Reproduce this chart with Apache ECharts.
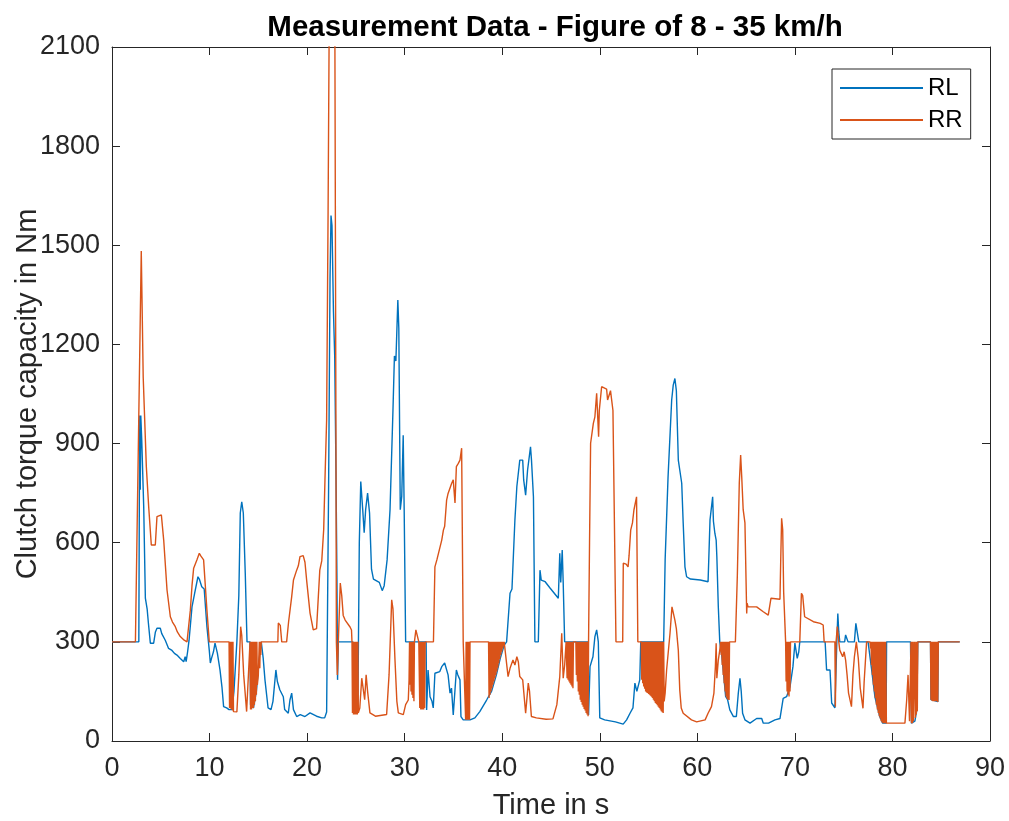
<!DOCTYPE html>
<html>
<head>
<meta charset="utf-8">
<script src="https://cdn.jsdelivr.net/npm/echarts@6/dist/echarts.min.js"></script>
<style>html,body{margin:0;padding:0;background:#fff;}#c{width:1009px;height:821px;}</style>
</head>
<body>
<div id="c"></div>
<script>
// ---- data (time in s, clutch torque capacity in Nm) ----
const seriesNames = ['RL', 'RR'];
const xTicks = [0, 10, 20, 30, 40, 50, 60, 70, 80, 90];
const yTicks = [0, 300, 600, 900, 1200, 1500, 1800, 2100];

const rlData = [
[0,300],[2.75,300],[2.8,710],[2.85,985],[2.9,760],[2.95,985],[3.05,910],[3.25,710],[3.42,432],[3.6,400],[3.73,357],[3.93,296],[4.27,296],[4.45,330],[4.61,341],[4.95,341],[5.1,325],[5.46,305],[5.8,280],[6.15,274],[6.4,265],[6.66,260],[7.0,250],[7.2,245],[7.35,240],[7.5,255],[7.6,240],[7.75,270],[7.9,305],[8.2,406],[8.47,447],[8.81,497],[8.95,490],[9.2,467],[9.45,460],[9.73,346],[9.97,275],[10.08,236],[10.2,250],[10.4,270],[10.56,296],[10.8,266],[11.07,215],[11.27,164],[11.44,104],[11.75,100],[12.0,95],[12.3,95],[12.5,150],[12.8,300],[13.0,440],[13.15,690],[13.3,724],[13.46,690],[13.66,508],[13.84,300],[14.15,300],[14.2,110],[14.5,100],[14.8,150],[15.1,250],[15.3,300],[15.5,250],[15.68,185],[16.0,100],[16.3,95],[16.5,120],[16.8,215],[16.95,180],[17.2,155],[17.4,150],[17.56,134],[17.7,95],[18.07,84],[18.24,124],[18.42,145],[18.6,95],[18.93,74],[19.3,80],[19.78,74],[20.3,85],[20.97,75],[21.5,70],[21.8,70],[22.0,88],[22.2,756],[22.35,1400],[22.45,1590],[22.55,1560],[22.7,1300],[22.83,1162],[22.96,811],[23.06,484],[23.12,185],[23.2,300],[24.7,300],[24.9,94],[25.2,85],[25.35,600],[25.5,785],[25.7,700],[25.85,630],[26.0,700],[26.2,750],[26.4,690],[26.6,520],[26.8,490],[27.4,480],[27.7,455],[27.9,470],[28.2,548],[28.5,700],[28.8,1000],[28.95,1165],[29.1,1150],[29.3,1334],[29.4,1250],[29.55,700],[29.7,740],[29.85,925],[29.95,700],[30.1,300],[32.2,300],[32.25,94],[32.4,215],[32.6,134],[32.8,120],[32.93,100],[33.1,205],[33.3,200],[33.6,210],[33.8,225],[34.1,236],[34.3,230],[34.45,200],[34.65,145],[34.8,160],[34.98,79],[35.1,74],[35.3,215],[35.45,200],[35.67,185],[35.77,74],[36.0,64],[36.7,64],[37.2,70],[37.7,89],[38.4,124],[38.9,150],[39.4,200],[39.8,250],[40.2,290],[40.45,300],[40.8,447],[41.0,460],[41.3,669],[41.5,770],[41.8,850],[42.1,850],[42.2,790],[42.4,744],[42.6,820],[42.9,890],[43.0,850],[43.2,739],[43.35,300],[43.7,300],[43.87,517],[44.0,487],[44.4,482],[44.9,463],[45.75,432],[45.9,568],[46.0,480],[46.15,578],[46.25,480],[46.4,300],[48.8,300],[48.85,79],[49.0,225],[49.2,245],[49.3,255],[49.5,316],[49.68,336],[49.85,300],[50.0,70],[50.5,64],[51.6,58],[52.4,51],[52.75,64],[53.1,84],[53.4,100],[53.6,175],[53.8,150],[54.1,185],[54.2,300],[56.55,300],[56.7,548],[57.0,800],[57.37,1032],[57.53,1077],[57.7,1097],[57.85,1060],[58.05,850],[58.2,820],[58.4,780],[58.55,660],[58.73,527],[58.9,497],[59.3,490],[60.3,487],[61.1,482],[61.3,669],[61.45,665],[61.57,739],[61.65,665],[61.8,628],[61.93,608],[62.0,558],[62.15,406],[62.3,300],[62.5,260],[62.7,200],[62.9,135],[63.1,125],[63.33,94],[63.7,74],[64.0,74],[64.2,145],[64.37,190],[64.5,150],[64.64,84],[64.88,64],[65.4,54],[66.08,68],[66.6,68],[66.76,54],[67.3,54],[67.96,64],[68.47,68],[68.8,129],[69.15,134],[69.5,164],[69.8,225],[70.0,296],[70.1,296],[70.24,250],[70.4,270],[70.5,300],[73.1,300],[73.25,215],[73.6,215],[73.77,115],[74.1,100],[74.3,300],[74.4,386],[74.5,330],[74.6,300],[75.1,300],[75.2,321],[75.35,321],[75.45,300],[76.1,300],[76.25,356],[76.4,356],[76.55,300],[77.5,300],[77.87,215],[78.2,134],[78.7,74],[79.0,54],[79.35,54],[79.4,300],[81.85,300],[81.95,54],[82.3,60],[82.5,94],[82.6,300],[83.9,300],[83.95,125],[84.65,119],[84.7,300],[86.9,300]
];

const rrData = [
[0,300],[2.4,300],[3.0,1483],[3.2,1100],[3.52,830],[3.76,709],[4.03,593],[4.44,593],[4.61,679],[5.06,684],[5.3,608],[5.64,457],[5.98,376],[6.2,360],[6.49,346],[6.7,330],[7.0,316],[7.2,320],[7.4,305],[7.69,300],[8.03,396],[8.2,470],[8.37,523],[8.7,548],[8.95,568],[9.1,560],[9.39,548],[9.73,396],[9.97,300],
[12.0,300],[12.05,100],[12.1,300],[12.15,98],[12.2,300],[12.25,95],[12.3,300],[12.35,92],[12.4,300],[12.45,89],[12.6,85],[12.8,88],[13.0,200],[13.19,346],[13.3,320],[13.5,200],[13.8,89],[14.0,95],[14.15,300],
[14.2,95],[14.25,300],[14.3,95],[14.35,300],[14.4,100],[14.45,300],[14.5,100],[14.55,300],[14.6,110],[14.65,300],[14.7,120],[14.75,300],[14.8,140],[14.85,300],[14.9,170],[15.0,200],[15.1,300],[15.15,220],[15.2,300],[15.25,260],[15.3,300],
[17.0,300],[17.05,357],[17.25,350],[17.4,300],[17.9,300],[18.1,360],[18.42,437],[18.6,487],[18.93,517],[19.1,530],[19.27,558],[19.6,561],[19.78,541],[19.95,487],[20.3,387],[20.63,336],[20.97,340],[21.3,517],[21.5,545],[21.7,640],[21.83,790],[22.0,971],[22.15,1600],[22.25,2100],[22.55,2600],[22.85,2100],[22.95,1000],[23.0,300],[23.1,200],[23.2,300],[23.4,478],[23.55,440],[23.7,380],[23.9,366],[24.4,345],[24.55,336],[24.6,300],
[24.65,85],[24.7,300],[24.75,80],[24.8,300],[24.85,80],[24.9,300],[24.95,80],[25.0,300],[25.05,80],[25.1,300],[25.15,80],[25.2,300],[25.25,85],[25.4,100],[25.6,190],[25.76,195],[25.9,125],[26.05,200],[26.2,150],[26.44,85],[27.0,75],[28.15,80],[28.4,200],[28.67,427],[28.8,400],[29.0,250],[29.2,120],[29.35,85],[29.86,80],[30.1,110],[30.37,124],[30.45,184],
[30.5,300],[30.55,170],[30.6,300],[30.65,150],[30.7,300],[30.75,140],[30.8,300],[30.85,130],[30.9,300],[30.95,120],[31.0,300],[31.15,336],[31.35,336],[31.45,300],
[31.55,100],[31.6,300],[31.65,95],[31.7,300],[31.75,95],[31.8,300],[31.85,95],[31.9,300],[31.95,95],[32.0,300],[32.05,100],[32.1,300],[32.95,300],[33.1,527],[33.3,548],[33.5,548],[33.8,608],[33.97,638],[34.1,650],[34.3,729],[34.45,749],[34.6,745],[34.82,780],[34.98,790],[35.16,720],[35.3,830],[35.5,840],[35.67,850],[35.84,886],[35.95,880],[36.0,300],
[36.2,300],[36.25,64],[36.3,300],[36.35,64],[36.4,300],[36.45,64],[36.5,300],[36.55,64],[36.6,300],[36.65,64],[36.7,300],
[38.6,300],[38.65,130],[38.7,300],[38.75,140],[38.8,300],[38.85,150],[38.9,300],[38.95,160],[39.0,300],[39.05,170],[39.1,300],[39.15,180],[39.2,300],[39.25,190],[39.3,300],[39.35,200],[39.4,300],[39.45,210],[39.5,300],[39.55,222],[39.6,300],[39.65,235],[39.7,300],[39.75,248],[39.8,300],[39.85,260],[39.9,300],[39.95,270],[40.0,300],[40.05,280],[40.1,300],[40.15,288],[40.2,300],[40.25,295],[40.35,300],
[40.6,195],[40.8,220],[41.1,245],[41.3,230],[41.5,255],[41.65,240],[41.8,195],[42.1,185],[42.4,84],[42.67,175],[42.8,150],[42.99,74],[43.5,70],[44.5,66],[45.2,67],[45.6,110],[45.9,195],[46.1,326],[46.25,190],[46.4,230],[46.55,300],
[46.6,300],[46.65,190],[46.7,300],[46.75,185],[46.8,300],[46.85,180],[46.9,300],[46.95,175],[47.0,300],[47.05,170],[47.1,300],[47.15,165],[47.2,300],[47.25,160],[47.3,300],[47.55,300],
[47.6,200],[47.65,300],[47.7,180],[47.75,300],[47.8,150],[47.85,300],[47.9,140],[47.95,300],[48.0,125],[48.05,300],[48.1,118],[48.15,300],[48.2,110],[48.25,300],[48.3,104],[48.35,300],[48.4,97],[48.45,300],[48.5,92],[48.55,300],[48.6,85],[48.65,300],[48.7,80],[48.75,300],[48.8,75],[48.85,300],
[48.95,600],[49.06,901],[49.34,961],[49.5,981],[49.68,1052],[49.8,1052],[49.88,921],[49.95,1000],[50.19,1072],[50.7,1065],[50.8,1032],[51.0,1032],[51.1,1060],[51.22,1062],[51.35,1000],[51.66,300],[52.35,300],[52.41,538],[52.7,535],[52.9,527],[53.0,560],[53.17,638],[53.35,660],[53.5,699],[53.77,739],[53.82,740],[53.9,300],
[54.25,300],[54.3,185],[54.35,300],[54.4,175],[54.45,300],[54.5,165],[54.55,300],[54.6,158],[54.65,300],[54.7,150],[54.75,300],[54.8,147],[54.85,300],[54.9,145],[54.95,300],[55.0,142],[55.05,300],[55.1,140],[55.15,300],[55.2,137],[55.25,300],[55.3,134],[55.35,300],[55.4,130],[55.45,300],[55.5,125],[55.55,300],[55.6,120],[55.65,300],[55.7,115],[55.75,300],[55.8,112],[55.85,300],[55.9,108],[55.95,300],[56.0,104],[56.05,300],[56.1,100],[56.15,300],[56.2,95],[56.25,300],[56.3,90],[56.35,300],[56.4,87],[56.45,300],[56.5,85],[56.55,300],
[56.6,120],[56.7,145],[56.85,215],[57.2,326],[57.4,406],[57.53,406],[57.7,366],[57.85,340],[58.05,275],[58.2,154],[58.35,100],[58.55,84],[59.4,64],[59.93,58],[60.8,64],[61.1,84],[61.45,104],[61.7,145],[61.85,225],[61.93,296],[62.0,190],[62.15,245],[62.3,275],[62.4,300],
[62.45,260],[62.5,300],[62.55,230],[62.6,300],[62.65,200],[62.7,300],[62.75,175],[62.8,300],[62.85,150],[62.9,300],[62.95,135],[63.0,300],[63.05,128],[63.1,300],[63.15,125],[63.2,300],[63.25,124],[63.3,300],
[63.9,300],[64.1,500],[64.3,780],[64.44,865],[64.55,800],[64.7,700],[64.88,660],[65.06,386],[65.1,417],[65.2,406],[66.08,406],[66.76,391],[67.27,381],[67.45,381],[67.55,432],[68.47,429],[68.55,550],[68.64,674],[68.75,640],[68.85,450],[69.05,300],
[69.1,180],[69.15,300],[69.2,150],[69.25,300],[69.3,140],[69.35,300],[69.4,135],[69.45,300],[69.5,150],[69.55,300],
[70.5,300],[70.67,447],[70.8,440],[71.0,376],[71.9,361],[72.6,356],[72.9,351],[73.0,300],[74.1,300],[74.15,104],[74.22,300],[74.35,346],[74.5,300],[74.6,275],[74.76,275],[74.9,255],[75.05,270],[75.2,245],[75.35,200],[75.5,145],[75.8,104],[75.95,200],[76.1,255],[76.3,300],[76.5,250],[76.7,160],[76.98,99],[77.1,180],[77.35,300],
[77.7,300],[77.75,280],[77.8,300],[77.85,230],[77.9,300],[77.95,200],[78.0,300],[78.05,170],[78.1,300],[78.15,150],[78.2,300],[78.25,130],[78.3,300],[78.35,110],[78.4,300],[78.45,95],[78.5,300],[78.55,85],[78.6,300],[78.65,75],[78.7,300],[78.75,68],[78.8,300],[78.85,60],[78.9,300],[78.95,56],[79.0,300],[79.05,54],[79.1,300],[79.15,54],[79.2,300],[79.25,54],[79.3,300],[79.38,54],
[81.28,54],[81.46,124],[81.6,200],[81.75,60],[81.85,54],[81.9,300],[81.95,54],[82.0,300],[82.05,54],[82.1,300],[82.15,60],[82.25,300],[82.35,70],[82.4,300],[82.45,80],[82.5,300],[82.55,90],[82.6,300],
[83.9,300],[83.95,125],[84.0,300],[84.05,122],[84.1,300],[84.15,120],[84.2,300],[84.25,120],[84.3,300],[84.35,120],[84.4,300],[84.45,120],[84.5,300],[84.55,120],[84.6,300],[84.65,118],[84.7,300],[86.9,300]
];

// ---- chart ----
const FONT = '"Liberation Sans", Arial, Helvetica, sans-serif';
const AX = '#262626';
const chart = echarts.init(document.getElementById('c'), null, {renderer: 'canvas'});

const baseAxis = {
  axisLine: {show: true, onZero: false, lineStyle: {color: AX, width: 1}},
  axisTick: {show: true, inside: true, length: 8, lineStyle: {color: AX, width: 1}},
  splitLine: {show: false}
};
const plain = v => String(v);

chart.setOption({
  animation: false,
  backgroundColor: '#fff',
  title: {
    text: 'Measurement Data - Figure of 8 - 35 km/h',
    left: 550, top: 8, textAlign: 'center',
    textStyle: {fontFamily: FONT, fontSize: 29.5, fontWeight: 'bold', color: '#000'}
  },
  legend: {
    data: seriesNames,
    orient: 'vertical',
    left: 832, top: 69,
    padding: [7, 8, 7, 8],
    itemGap: 8,
    itemWidth: 83, itemHeight: 2,
    icon: 'rect',
    backgroundColor: '#fff',
    borderColor: AX, borderWidth: 1,
    textStyle: {fontFamily: FONT, fontSize: 24, color: '#000', lineHeight: 24}
  },
  grid: {left: 112, right: 19, top: 47, bottom: 80, containLabel: false, outerBoundsMode: 'none'},
  xAxis: [
    Object.assign({}, baseAxis, {
      type: 'value', min: xTicks[0], max: xTicks[xTicks.length - 1], interval: 10,
      position: 'bottom',
      name: 'Time in s', nameLocation: 'middle', nameGap: 50, nameMoveOverlap: false,
      nameTextStyle: {fontFamily: FONT, fontSize: 29, color: AX},
      axisLabel: {fontFamily: FONT, fontSize: 27, color: AX, margin: 14, formatter: plain}
    }),
    Object.assign({}, baseAxis, {
      type: 'value', min: xTicks[0], max: xTicks[xTicks.length - 1], interval: 10,
      position: 'top', axisLabel: {show: false}
    })
  ],
  yAxis: [
    Object.assign({}, baseAxis, {
      type: 'value', min: yTicks[0], max: yTicks[yTicks.length - 1], interval: 300,
      position: 'left',
      name: 'Clutch torque capacity in Nm', nameLocation: 'middle', nameGap: 70, nameRotate: 90,
      nameMoveOverlap: false,
      nameTextStyle: {fontFamily: FONT, fontSize: 29, color: AX},
      axisLabel: {fontFamily: FONT, fontSize: 27, color: AX, margin: 12, formatter: plain}
    }),
    Object.assign({}, baseAxis, {
      type: 'value', min: yTicks[0], max: yTicks[yTicks.length - 1], interval: 300,
      position: 'right', axisLabel: {show: false}
    })
  ],
  series: [
    {name: 'RL', type: 'line', data: rlData, xAxisIndex: 0, yAxisIndex: 0,
     showSymbol: false, symbol: 'none', clip: true, color: '#0072BD',
     lineStyle: {color: '#0072BD', width: 1.4}},
    {name: 'RR', type: 'line', data: rrData, xAxisIndex: 0, yAxisIndex: 0,
     showSymbol: false, symbol: 'none', clip: true, color: '#D95319',
     lineStyle: {color: '#D95319', width: 1.4}}
  ]
});
</script>
</body>
</html>
